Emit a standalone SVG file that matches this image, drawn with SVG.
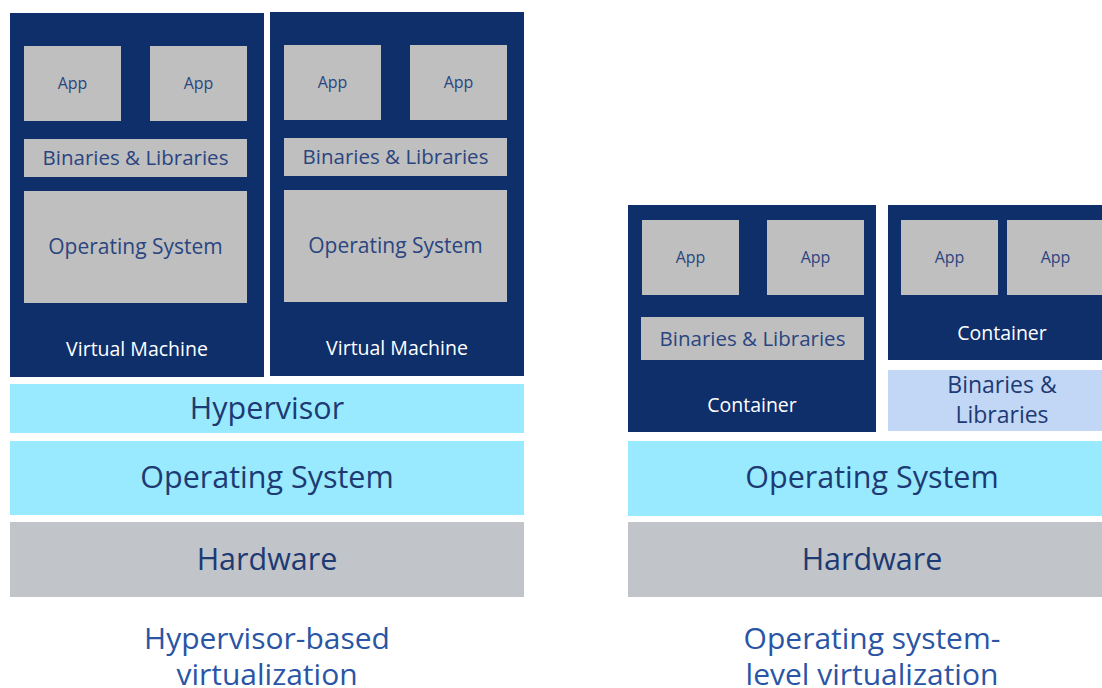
<svg xmlns="http://www.w3.org/2000/svg" width="1102" height="688" viewBox="0 0 1102 688">
  <style>
    text { font-family: "Open Sans", "Noto Sans", sans-serif; text-anchor: middle; }
    .navy { fill: #0f2f6b; }
    .grey { fill: #bfbfbf; }
    .cyan { fill: #99eaff; }
    .hw { fill: #c1c4c9; }
    .pale { fill: #c2d6f5; }
    .t-app { font-size: 16px; fill: #2a4580; }
    .t-in { font-size: 20.5px; fill: #2a4580; }
    .t-os { font-size: 21px; fill: #2a4580; }
    .t-white { font-size: 19.5px; fill: #ffffff; }
    .t-layer { font-size: 30.5px; fill: #1d3a73; }
    .t-pale { font-size: 23px; fill: #1d3a73; }
    .t-title { font-size: 30px; fill: #2a55a5; }
  </style>

  <rect width="1102" height="688" fill="#ffffff"/>

  <!-- Hypervisor-based stack -->
  <g id="vm1">
    <rect class="navy" x="10" y="13" width="254" height="364"/>
    <rect class="grey" x="24" y="46" width="97" height="75"/>
    <text class="t-app" x="72.5" y="89">App</text>
    <rect class="grey" x="150" y="46" width="97" height="75"/>
    <text class="t-app" x="198.5" y="89">App</text>
    <rect class="grey" x="24" y="139" width="223" height="38"/>
    <text class="t-in" x="135.5" y="165">Binaries &amp; Libraries</text>
    <rect class="grey" x="24" y="191" width="223" height="112"/>
    <text class="t-os" x="135.5" y="254">Operating System</text>
    <text class="t-white" x="137" y="356">Virtual Machine</text>
  </g>

  <g id="vm2">
    <rect class="navy" x="270" y="12" width="254" height="364"/>
    <rect class="grey" x="284" y="45" width="97" height="75"/>
    <text class="t-app" x="332.5" y="88">App</text>
    <rect class="grey" x="410" y="45" width="97" height="75"/>
    <text class="t-app" x="458.5" y="88">App</text>
    <rect class="grey" x="284" y="138" width="223" height="38"/>
    <text class="t-in" x="395.5" y="164">Binaries &amp; Libraries</text>
    <rect class="grey" x="284" y="190" width="223" height="112"/>
    <text class="t-os" x="395.5" y="253">Operating System</text>
    <text class="t-white" x="397" y="355">Virtual Machine</text>
  </g>

  <g id="hypervisor">
    <rect class="cyan" x="10" y="384" width="514" height="49"/>
    <text class="t-layer" x="267" y="419">Hypervisor</text>
  </g>

  <g id="host-os-left">
    <rect class="cyan" x="10" y="441" width="514" height="74"/>
    <text class="t-layer" x="267" y="488">Operating System</text>
  </g>

  <g id="hardware-left">
    <rect class="hw" x="10" y="522" width="514" height="75"/>
    <text class="t-layer" x="267" y="570">Hardware</text>
  </g>

  <g id="title-left">
    <text class="t-title" x="267" y="649">Hypervisor-based</text>
    <text class="t-title" x="267" y="685">virtualization</text>
  </g>

  <!-- Operating system-level stack -->
  <g id="container1">
    <rect class="navy" x="628" y="205" width="248" height="227"/>
    <rect class="grey" x="642" y="220" width="97" height="75"/>
    <text class="t-app" x="690.5" y="263">App</text>
    <rect class="grey" x="767" y="220" width="97" height="75"/>
    <text class="t-app" x="815.5" y="263">App</text>
    <rect class="grey" x="641" y="317" width="223" height="43"/>
    <text class="t-in" x="752.5" y="345.5">Binaries &amp; Libraries</text>
    <text class="t-white" x="752" y="412">Container</text>
  </g>

  <g id="container2">
    <rect class="navy" x="888" y="205" width="228" height="155"/>
    <rect class="grey" x="901" y="220" width="97" height="75"/>
    <text class="t-app" x="949.5" y="263">App</text>
    <rect class="grey" x="1007" y="220" width="97" height="75"/>
    <text class="t-app" x="1055.5" y="263">App</text>
    <text class="t-white" x="1002" y="340">Container</text>
  </g>

  <g id="shared-libs">
    <rect class="pale" x="888" y="370" width="228" height="61"/>
    <text class="t-pale" x="1002" y="393">Binaries &amp;</text>
    <text class="t-pale" x="1002" y="423">Libraries</text>
  </g>

  <g id="host-os-right">
    <rect class="cyan" x="628" y="441" width="488" height="75"/>
    <text class="t-layer" x="872" y="488">Operating System</text>
  </g>

  <g id="hardware-right">
    <rect class="hw" x="628" y="522" width="488" height="75"/>
    <text class="t-layer" x="872" y="570">Hardware</text>
  </g>

  <g id="title-right">
    <text class="t-title" x="872" y="649">Operating system-</text>
    <text class="t-title" x="872" y="685">level virtualization</text>
  </g>

  <!-- stacked layers only; no connectors -->
  <g id="connectors"/>
</svg>
